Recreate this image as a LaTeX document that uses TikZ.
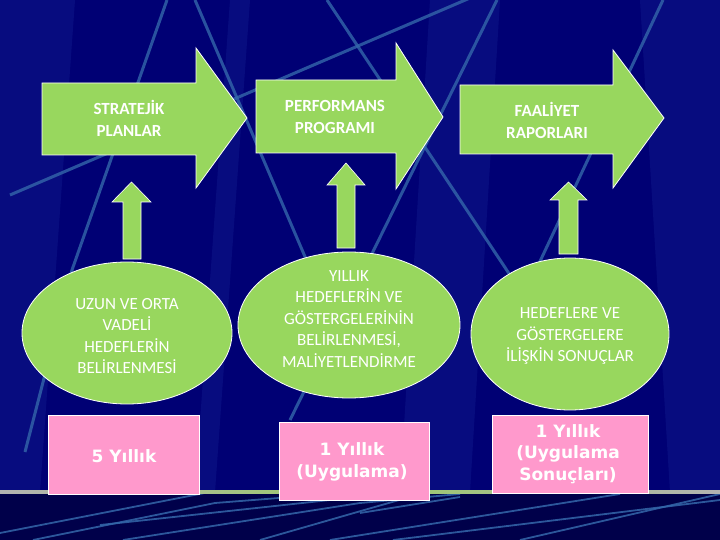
\documentclass[tikz,border=0pt]{standalone}
\usepackage{fontspec}
\setmainfont{Carlito}
\newfontfamily\dvsans{DejaVu Sans}
\usetikzlibrary{shapes.geometric}
\definecolor{navy}{HTML}{000074}
\definecolor{navydark}{HTML}{00004A}
\definecolor{lineblue}{HTML}{3467AA}
\definecolor{bandblue}{HTML}{1A2A9A}
\definecolor{lgreen}{HTML}{98D75E}
\definecolor{lpink}{HTML}{FF99CC}
\definecolor{horgreen}{HTML}{9CCB6A}
\tikzset{
 bigarrow/.style={fill=lgreen, draw=white, line width=0.8pt},
 uparrow/.style={fill=lgreen, draw=white, line width=0.6pt},
 oval/.style={ellipse, fill=lgreen, draw=white, line width=0.8pt, inner sep=0pt},
 pinkbox/.style={rectangle, fill=lpink, draw=white, line width=1pt, inner sep=0pt},
 arrowtext/.style={text=white, font=\bfseries\fontsize{17}{22}\selectfont, align=center, inner sep=0pt},
 ovaltext/.style={text=white, font=\fontsize{17}{21.5}\selectfont, align=center, inner sep=0pt},
 boxtext/.style={text=white, font=\dvsans\bfseries\fontsize{17}{21.5}\selectfont, align=center, inner sep=0pt},
 bgline/.style={draw=lineblue, line width=3pt, opacity=0.8},
 lowline/.style={draw=lineblue, line width=1.8pt, opacity=0.85},
 band/.style={fill=bandblue, opacity=0.3},
}
\begin{document}
\begin{tikzpicture}[x=1pt,y=-1pt]
\useasboundingbox (0,0) rectangle (720,540);
% background
\fill[navy] (0,0) rectangle (720,492);
\fill[navydark] (0,492) rectangle (720,540);
\fill[band] (0,0) -- (75,0) -- (40,492) -- (0,492) -- cycle;
\fill[band] (430,0) -- (500,0) -- (470,492) -- (400,492) -- cycle;
\fill[band] (230,0) -- (250,0) -- (215,492) -- (195,492) -- cycle;
\fill[band] (640,0) -- (720,0) -- (720,492) -- (670,492) -- cycle;
% upper decorative lines
\draw[bgline] (167,0) -- (72,270) -- (25,452);
\draw[bgline] (195,0) -- (315,280);
\draw[bgline] (327,0) -- (520,290);
\draw[bgline] (497,0) -- (290,420);
\draw[bgline] (663,0) -- (535,272);
\draw[bgline] (470,-2) -- (10,195);
% lower decorative lines
\begin{scope}
\clip (0,494) rectangle (720,540);
\draw[lowline] (0,533) -- (220,490);
\draw[lowline] (33,540) -- (215,503) -- (330,494);
\draw[lowline] (123,540) -- (360,503) -- (460,494);
\draw[lowline] (260,540) -- (420,494);
\draw[lowline] (330,540) -- (620,494);
\draw[lowline] (360,513) -- (460,497);
\draw[lowline] (393,540) -- (720,500);
\draw[lowline] (520,540) -- (720,494);
\draw[lowline] (100,525) -- (330,500);
\end{scope}
% horizon line
\shade[left color=gray!60, right color=horgreen] (0,490.5) rectangle (360,493.5);
\shade[left color=horgreen, right color=gray!60] (360,490.5) rectangle (720,493.5);
% big right arrows
\draw[bigarrow] (42,83) -- (196,83) -- (196,48) -- (247,118) -- (196,188) -- (196,155) -- (42,155) -- cycle;
\draw[bigarrow] (256,80) -- (396,80) -- (396,43) -- (443,117) -- (396,189) -- (396,153) -- (256,153) -- cycle;
\draw[bigarrow] (460,85) -- (613,85) -- (613,50) -- (664,118) -- (613,188) -- (613,154) -- (460,154) -- cycle;
\node[arrowtext] (a1) at (129,118) {STRATEJİK\\PLANLAR};
\node[arrowtext] (a2) at (335,117) {PERFORMANS\\PROGRAMI};
\node[arrowtext] (a3) at (547,120) {FAALİYET\\RAPORLARI};
% small up arrows
\draw[uparrow] (123,259) -- (123,202) -- (112,202) -- (131.5,182) -- (151,202) -- (141,202) -- (141,259) -- cycle;
\draw[uparrow] (337,248) -- (337,185) -- (327,185) -- (346,163) -- (365,185) -- (355,185) -- (355,248) -- cycle;
\draw[uparrow] (559,254) -- (559,200) -- (550,200) -- (568.5,182) -- (587,200) -- (578,200) -- (578,254) -- cycle;
% ovals
\node[oval, minimum width=210pt, minimum height=142pt] (e1) at (127,333) {};
\node[oval, minimum width=222pt, minimum height=146pt] (e2) at (349,325) {};
\node[oval, minimum width=198pt, minimum height=152pt] (e3) at (570,334) {};
\node[ovaltext] (t1) at (127,336) {UZUN VE ORTA\\VADELİ\\HEDEFLERİN\\BELİRLENMESİ};
\node[ovaltext] (t2) at (349,319) {YILLIK\\HEDEFLERİN VE\\GÖSTERGELERİNİN\\BELİRLENMESİ,\\MALİYETLENDİRME};
\node[ovaltext] (t3) at (570,336) {HEDEFLERE VE\\GÖSTERGELERE\\İLİŞKİN SONUÇLAR};
% pink boxes
\node[pinkbox, minimum width=151pt, minimum height=79pt] (b1) at (123.5,454.5) {};
\node[pinkbox, minimum width=150pt, minimum height=78pt] (b2) at (354,461) {};
\node[pinkbox, minimum width=156pt, minimum height=78pt] (b3) at (570,454) {};
\node[boxtext] (p1) at (124,456) {5 Yıllık};
\node[boxtext] (p2) at (352,462) {1 Yıllık\\(Uygulama)};
\node[boxtext] (p3) at (568,454) {1 Yıllık\\(Uygulama\\Sonuçları)};
\end{tikzpicture}
\end{document}
